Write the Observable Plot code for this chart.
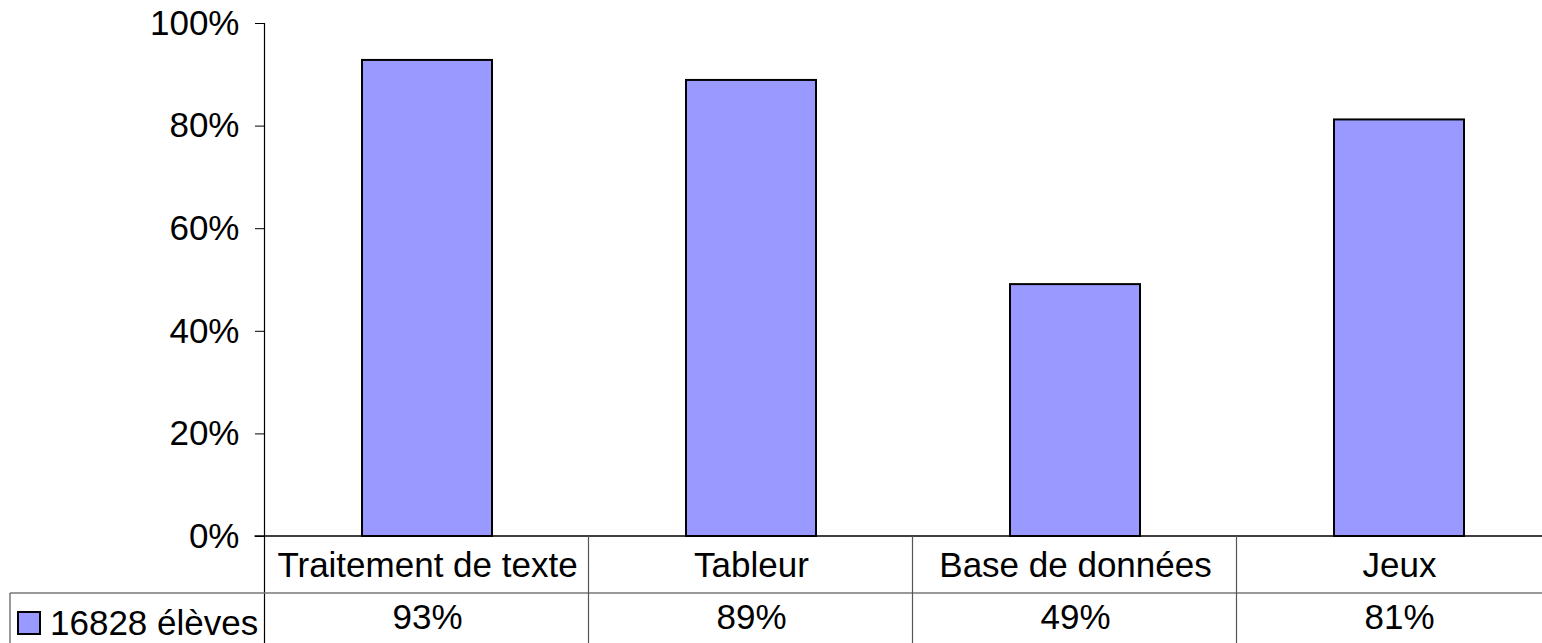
<!DOCTYPE html>
<html>
<head>
<meta charset="utf-8">
<script src="https://cdn.jsdelivr.net/npm/d3@7"></script>
<script src="https://cdn.jsdelivr.net/npm/@observablehq/plot@0.6"></script>
<style>
  html, body { margin: 0; padding: 0; background: #fff; overflow: hidden; }
  #chart { width: 1542px; height: 643px; overflow: hidden; }
  #chart svg { max-width: none !important; height: 643px !important; }
</style>
</head>
<body>
<div id="chart"></div>
<script>
const categories = ["Traitement de texte", "Tableur", "Base de données", "Jeux"];
const values = [0.928, 0.889, 0.491, 0.812];
const seriesName = "16828 élèves";
const yTicks = [0, 0.2, 0.4, 0.6, 0.8, 1];

const data = categories.map((c, i) => ({cat: c, value: values[i]}));
const fmt = d3.format(".0%");
const FS = 35;

const plot = Plot.plot({
  width: 1561,
  height: 643,
  marginLeft: 265,
  marginRight: 0,
  marginTop: 23,
  marginBottom: 107,
  style: {fontFamily: "Liberation Sans, Arial, sans-serif", fontSize: FS + "px", background: "#fff", maxWidth: "none"},
  x: {domain: categories, paddingInner: 0.6, paddingOuter: 0.3, axis: null},
  y: {domain: [0, 1], ticks: yTicks, tickFormat: fmt, tickSize: 10, tickPadding: 16, label: null},
  marks: [
    Plot.barY(data, {x: "cat", y: "value", fill: "#9999ff", stroke: "#000", strokeWidth: 2}),
    Plot.text(categories, {x: d => d, frameAnchor: "bottom", dy: 40, fontSize: FS, fill: "#000"}),
    Plot.text(data, {x: "cat", text: d => fmt(d.value), frameAnchor: "bottom", dy: 92, fontSize: FS, fill: "#000"})
  ]
});
plot.style.maxWidth = "none";

document.getElementById("chart").appendChild(plot);

// Data-table grid and axis lines, positioned from the plot's scales
const svg = d3.select(plot);
const xs = plot.scale("x");
const ys = plot.scale("y");
const bw = xs.bandwidth;
const step = bw / (1 - 0.6);
const x0 = xs.apply(categories[0]) - step * 0.3;
const y0 = ys.apply(0);
const yTop = ys.apply(1);
const rowH = 57;
const g = svg.append("g");
g.append("line").attr("x1", x0).attr("x2", x0).attr("y1", yTop).attr("y2", 643).attr("stroke", "#000").attr("stroke-width", 1.2);
g.append("line").attr("x1", x0 - 10).attr("x2", 1561).attr("y1", y0).attr("y2", y0).attr("stroke", "#000").attr("stroke-width", 1.5);
g.append("line").attr("x1", 10).attr("x2", 1561).attr("y1", y0 + rowH).attr("y2", y0 + rowH).attr("stroke", "#777").attr("stroke-width", 1.5);
g.append("line").attr("x1", 10).attr("x2", 10).attr("y1", y0 + rowH).attr("y2", 643).attr("stroke", "#555").attr("stroke-width", 1.2);
categories.slice(1).forEach(c => {
  const xc = xs.apply(c) - (step - bw) / 2;
  g.append("line").attr("x1", xc).attr("x2", xc).attr("y1", y0).attr("y2", 643).attr("stroke", "#555").attr("stroke-width", 1.2);
});
g.append("rect").attr("x", 18).attr("y", 612).attr("width", 22).attr("height", 22)
  .attr("fill", "#9999ff").attr("stroke", "#000").attr("stroke-width", 2);
g.append("text").attr("x", 50).attr("y", 623).attr("dy", "0.35em").attr("text-anchor", "start")
  .attr("font-size", FS).attr("fill", "#000").text(seriesName);
</script>
</body>
</html>
